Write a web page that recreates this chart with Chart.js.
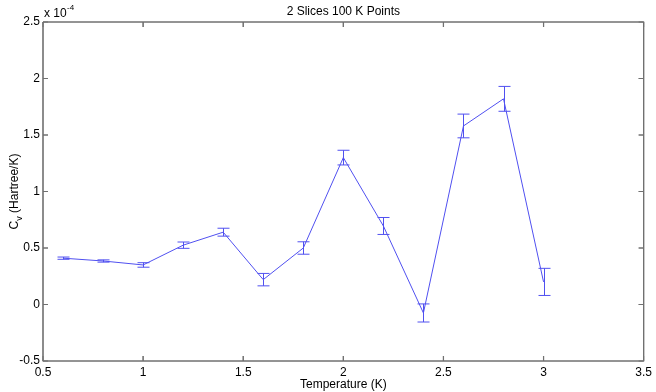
<!DOCTYPE html>
<html>
<head>
<meta charset="utf-8">
<script src="https://cdn.jsdelivr.net/npm/chart.js@4"></script>
<style>
  body { margin: 0; background: #fff; }
  canvas { display: block; }
</style>
</head>
<body>
<canvas id="cvChart" width="656" height="392"></canvas>
<script>
// temperatures (K) and heat capacity in units of 1e-4 Hartree/K
const temps = [0.6, 0.8, 1.0, 1.2, 1.4, 1.6, 1.8, 2.0, 2.2, 2.4, 2.6, 2.8, 3.0];
const cv = [0.41, 0.385, 0.35, 0.525, 0.64, 0.22, 0.5, 1.3, 0.695, -0.075, 1.58, 1.82, 0.2];
const cvErr = [0.01, 0.01, 0.02, 0.028, 0.035, 0.055, 0.055, 0.065, 0.075, 0.08, 0.105, 0.11, 0.12];
const xTicks = [0.5, 1, 1.5, 2, 2.5, 3, 3.5];
const yTicks = [-0.5, 0, 0.5, 1, 1.5, 2, 2.5];

const lineColor = "#5050f0";
const axisColor = "#707070";
const fontFamily = "'Liberation Sans', Arial, sans-serif";

function boxPath(ctx, xs, ys) {
  const L = xs.getPixelForValue(xTicks[0]);
  const R = xs.getPixelForValue(xTicks[xTicks.length - 1]);
  const T = ys.getPixelForValue(yTicks[yTicks.length - 1]);
  const B = ys.getPixelForValue(yTicks[0]);
  ctx.beginPath();
  ctx.moveTo(L, T);
  ctx.lineTo(R, T);
  ctx.lineTo(R, B);
  ctx.lineTo(L, B);
  ctx.lineTo(L, T);
  xTicks.forEach(v => {
    const px = xs.getPixelForValue(v);
    ctx.moveTo(px, B);
    ctx.lineTo(px, B - 5);
    ctx.moveTo(px, T);
    ctx.lineTo(px, T + 5);
  });
  yTicks.forEach(v => {
    const py = ys.getPixelForValue(v);
    ctx.moveTo(L, py);
    ctx.lineTo(L + 5, py);
    ctx.moveTo(R, py);
    ctx.lineTo(R - 5, py);
  });
  return [L, R, T, B];
}

// error bars plus the MATLAB style box with inward ticks
const errorBarsAndFrame = {
  id: "errorBarsAndFrame",
  afterDatasetsDraw(chart) {
    const ctx = chart.ctx;
    const xs = chart.scales.x, ys = chart.scales.y;
    ctx.save();
    ctx.strokeStyle = lineColor;
    ctx.lineWidth = 1;
    ctx.beginPath();
    temps.forEach((t, i) => {
      const px = Math.round(xs.getPixelForValue(t)) + 0.5;
      const top = ys.getPixelForValue(cv[i] + cvErr[i]);
      const bot = ys.getPixelForValue(cv[i] - cvErr[i]);
      ctx.moveTo(px, top);
      ctx.lineTo(px, bot);
      ctx.moveTo(px - 6, top);
      ctx.lineTo(px + 6, top);
      ctx.moveTo(px - 6, bot);
      ctx.lineTo(px + 6, bot);
    });
    ctx.stroke();

    ctx.strokeStyle = axisColor;
    const dims = boxPath(ctx, xs, ys);
    ctx.stroke();
    chart.$boxDims = dims;
    ctx.restore();
  },
  afterDraw(chart) {
    const { ctx, chartArea: area } = chart;
    ctx.save();
    ctx.strokeStyle = axisColor;
    ctx.lineWidth = 1.2;
    boxPath(ctx, chart.scales.x, chart.scales.y);
    ctx.stroke();

    ctx.fillStyle = "#000";
    ctx.font = "12px " + fontFamily;
    ctx.textAlign = "center";
    ctx.textBaseline = "alphabetic";
    ctx.fillText("2 Slices 100 K Points", (area.left + area.right) / 2, 15);
    ctx.fillText("Temperature (K)", (area.left + area.right) / 2, 388);

    // exponent marker
    ctx.textAlign = "left";
    ctx.fillText("x 10", area.left + 1, 17);
    ctx.font = "8px " + fontFamily;
    ctx.fillText("-4", area.left + 24, 10);

    // y title with subscript
    ctx.translate(18, (area.top + area.bottom) / 2);
    ctx.rotate(-Math.PI / 2);
    ctx.font = "12px " + fontFamily;
    const w1 = ctx.measureText("C").width;
    const w3 = ctx.measureText(" (Hartree/K)").width;
    ctx.font = "9px " + fontFamily;
    const w2 = ctx.measureText("v").width;
    const sx = -(w1 + w2 + w3) / 2;
    ctx.font = "12px " + fontFamily;
    ctx.fillText("C", sx, 0);
    ctx.fillText(" (Hartree/K)", sx + w1 + w2, 0);
    ctx.font = "9px " + fontFamily;
    ctx.fillText("v", sx + w1, 4);
    ctx.restore();
  }
};

new Chart(document.getElementById("cvChart").getContext("2d"), {
  type: "line",
  data: {
    datasets: [
      {
        label: "Cv",
        data: temps.map((t, i) => ({ x: t, y: cv[i] })),
        borderColor: lineColor,
        borderWidth: 1,
        pointRadius: 0,
        tension: 0,
        fill: false
      }
    ]
  },
  options: {
    responsive: false,
    animation: false,
    layout: { padding: { top: 22, right: 11, left: 0, bottom: 0 } },
    plugins: {
      legend: { display: false },
      tooltip: { enabled: false }
    },
    scales: {
      x: {
        type: "linear",
        min: 0.5,
        max: 3.5,
        afterBuildTicks: s => { s.ticks = xTicks.map(v => ({ value: v })); },
        afterFit: s => { s.height = 31; },
        grid: { display: false, drawTicks: false },
        border: { display: false },
        ticks: {
          color: "#000", padding: 4, maxRotation: 0,
          font: { family: fontFamily, size: 12 },
          callback: v => String(v)
        }
      },
      y: {
        type: "linear",
        min: -0.5,
        max: 2.5,
        afterBuildTicks: s => { s.ticks = yTicks.map(v => ({ value: v })); },
        afterFit: s => { s.width = 43; },
        grid: { display: false, drawTicks: false },
        border: { display: false },
        ticks: {
          color: "#000", padding: 3,
          font: { family: fontFamily, size: 12 },
          callback: v => String(v)
        }
      }
    }
  },
  plugins: [errorBarsAndFrame]
});
</script>
</body>
</html>
